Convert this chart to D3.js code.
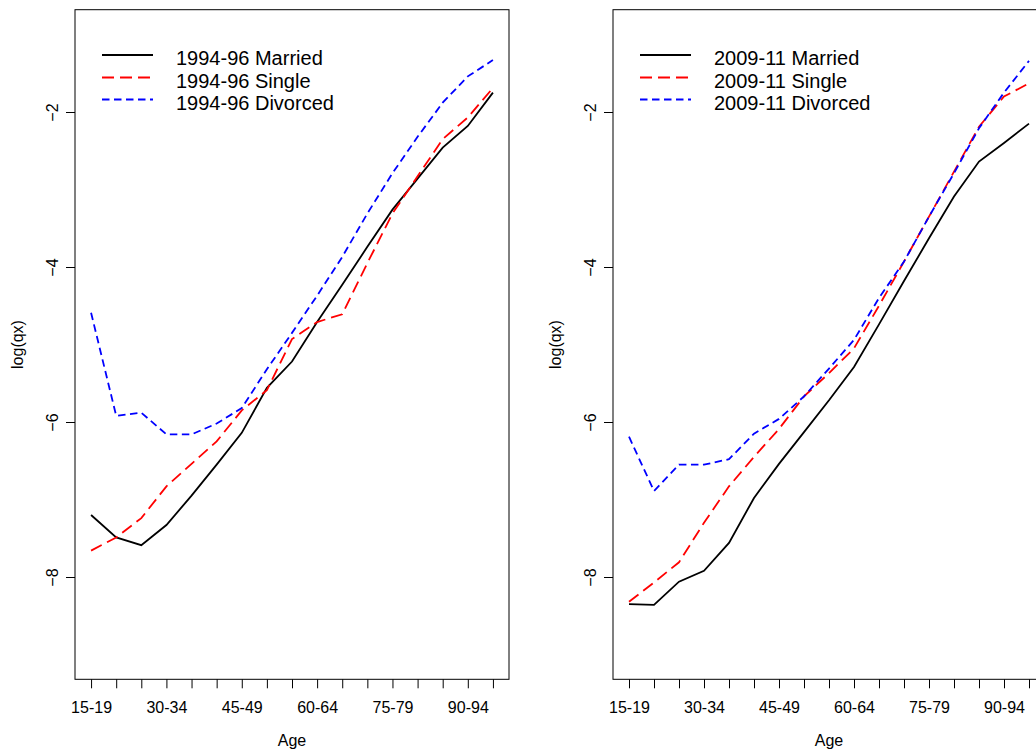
<!DOCTYPE html>
<html>
<head>
<meta charset="utf-8">
<script src="https://cdnjs.cloudflare.com/ajax/libs/d3/7.8.5/d3.min.js"></script>
<style>
	body { margin: 0; background: #fff; }
	svg { display: block; font-family: "Liberation Sans", Arial, Helvetica, sans-serif; }
	.axis text { font-size: 16px; fill: #000; }
	.axis line, .axis path { stroke: #000; stroke-width: 1; }
	.legend text { font-size: 20px; fill: #000; }
	.axis-title { font-size: 16px; fill: #000; }
</style>
</head>
<body>
<div id="chart"></div>
<script>

// age groups on the x axis
var ageGroups = ["15-19", "20-24", "25-29", "30-34", "35-39", "40-44", "45-49", "50-54", "55-59",
	"60-64", "65-69", "70-74", "75-79", "80-84", "85-89", "90-94", "95-99"];

// log(qx), 1994-96
var married9496  = [-7.20, -7.49, -7.59, -7.33, -6.95, -6.55, -6.14, -5.56, -5.22, -4.71, -4.23, -3.74, -3.26, -2.86, -2.46, -2.18, -1.75];
var single9496   = [-7.66, -7.49, -7.24, -6.83, -6.54, -6.25, -5.85, -5.59, -4.93, -4.71, -4.61, -3.95, -3.31, -2.83, -2.35, -2.07, -1.69];
var divorced9496 = [-4.59, -5.92, -5.88, -6.16, -6.16, -6.02, -5.82, -5.32, -4.85, -4.37, -3.87, -3.31, -2.79, -2.32, -1.88, -1.54, -1.33];

// 2009-11
var married0911  = [-8.35, -8.36, -8.06, -7.92, -7.56, -6.98, -6.54, -6.13, -5.72, -5.29, -4.74, -4.18, -3.63, -3.09, -2.64, -2.40, -2.15];
var single0911   = [-8.32, -8.07, -7.81, -7.30, -6.83, -6.45, -6.09, -5.67, -5.37, -5.05, -4.50, -3.93, -3.35, -2.77, -2.19, -1.80, -1.63];
var divorced0911 = [-6.19, -6.89, -6.55, -6.55, -6.48, -6.15, -5.96, -5.67, -5.31, -4.94, -4.40, -3.93, -3.35, -2.79, -2.21, -1.75, -1.34];

var statusNames = ["Married", "Single", "Divorced"];
var yTicks = [-8, -6, -4, -2];
var yLimits = [-9, -1];

// line styles per status
var lineColors = ["#000000", "#ff0000", "#0000ff"];
var lineDashes = [null, "12,6", "7.5,4.5"];

var svg = d3.select("#chart").append("svg")
	.attr("width", 1036)
	.attr("height", 751);


/*
 * LinePanel - one of the two plots
 */
LinePanel = function (_svg, _box, _period, _series) {
	this.svg = _svg;
	this.box = _box;
	this.period = _period;
	this.series = _series;
	this.initVis();
}

LinePanel.prototype.initVis = function () {
	var vis = this;
	var b = vis.box;

	// R style 4% padding around the data range
	var xPad = (ageGroups.length - 1) * 0.04;
	var yPad = (yLimits[1] - yLimits[0]) * 0.04;

	vis.x = d3.scaleLinear()
		.domain([1 - xPad, ageGroups.length + xPad])
		.range([b.left, b.right]);

	vis.y = d3.scaleLinear()
		.domain([yLimits[0] - yPad, yLimits[1] + yPad])
		.range([b.bottom, b.top]);

	vis.g = vis.svg.append("g");

	// x axis
	vis.xAxis = d3.axisBottom(vis.x)
		.tickValues(d3.range(1, ageGroups.length + 1))
		.tickSize(9)
		.tickSizeOuter(0)
		.tickPadding(13)
		.tickFormat(function (d) { return (d - 1) % 3 === 0 ? ageGroups[d - 1] : ""; });

	vis.g.append("g")
		.attr("class", "x-axis axis")
		.attr("transform", "translate(0," + b.bottom + ")")
		.call(vis.xAxis)
		.call(function (g) { g.select(".domain").remove(); });

	// y axis, labels turned like in R
	vis.yAxis = d3.axisLeft(vis.y)
		.tickValues(yTicks)
		.tickSize(9)
		.tickSizeOuter(0);

	vis.g.append("g")
		.attr("class", "y-axis axis")
		.attr("transform", "translate(" + b.left + ",0)")
		.call(vis.yAxis)
		.call(function (g) { g.select(".domain").remove(); })
		.selectAll("text")
		.attr("x", null)
		.attr("dy", null)
		.attr("text-anchor", "middle")
		.attr("transform", "translate(-17,0) rotate(-90)");

	// axis titles
	vis.g.append("text")
		.attr("class", "axis-title")
		.attr("text-anchor", "middle")
		.attr("x", (b.left + b.right) / 2)
		.attr("y", 746)
		.text("Age");

	vis.g.append("text")
		.attr("class", "axis-title")
		.attr("text-anchor", "middle")
		.attr("transform", "translate(" + (b.left - 52) + "," + ((b.top + b.bottom) / 2) + ") rotate(-90)")
		.text("log(qx)");

	// lines
	vis.line = d3.line()
		.x(function (d, i) { return vis.x(i + 1); })
		.y(function (d) { return vis.y(d); });

	vis.g.selectAll(".series")
		.data(vis.series)
		.enter()
		.append("path")
		.attr("class", "series")
		.attr("d", function (d) { return vis.line(d); })
		.attr("fill", "none")
		.attr("stroke", function (d, i) { return lineColors[i]; })
		.attr("stroke-width", 1.8)
		.attr("stroke-dasharray", function (d, i) { return lineDashes[i]; });

	// box
	vis.g.append("rect")
		.attr("x", b.left)
		.attr("y", b.top)
		.attr("width", b.right - b.left)
		.attr("height", b.bottom - b.top)
		.attr("fill", "none")
		.attr("stroke", "#000")
		.attr("stroke-width", 1);

	// legend
	var legend = vis.g.append("g").attr("class", "legend");
	var rowY = [55, 77.5, 99.5];

	legend.selectAll("line")
		.data(statusNames)
		.enter()
		.append("line")
		.attr("x1", b.left + 27)
		.attr("x2", b.left + 78)
		.attr("y1", function (d, i) { return rowY[i]; })
		.attr("y2", function (d, i) { return rowY[i]; })
		.attr("stroke", function (d, i) { return lineColors[i]; })
		.attr("stroke-width", 1.8)
		.attr("stroke-dasharray", function (d, i) { return lineDashes[i]; });

	legend.selectAll("text")
		.data(statusNames)
		.enter()
		.append("text")
		.attr("x", b.left + 101)
		.attr("y", function (d, i) { return rowY[i] + 10; })
		.text(function (d) { return vis.period + " " + d; });
}

new LinePanel(svg, { left: 75, right: 509, top: 9.7, bottom: 679.3 }, "1994-96",
	[married9496, single9496, divorced9496]);

new LinePanel(svg, { left: 613, right: 1045, top: 9.7, bottom: 679.3 }, "2009-11",
	[married0911, single0911, divorced0911]);

</script>
</body>
</html>
